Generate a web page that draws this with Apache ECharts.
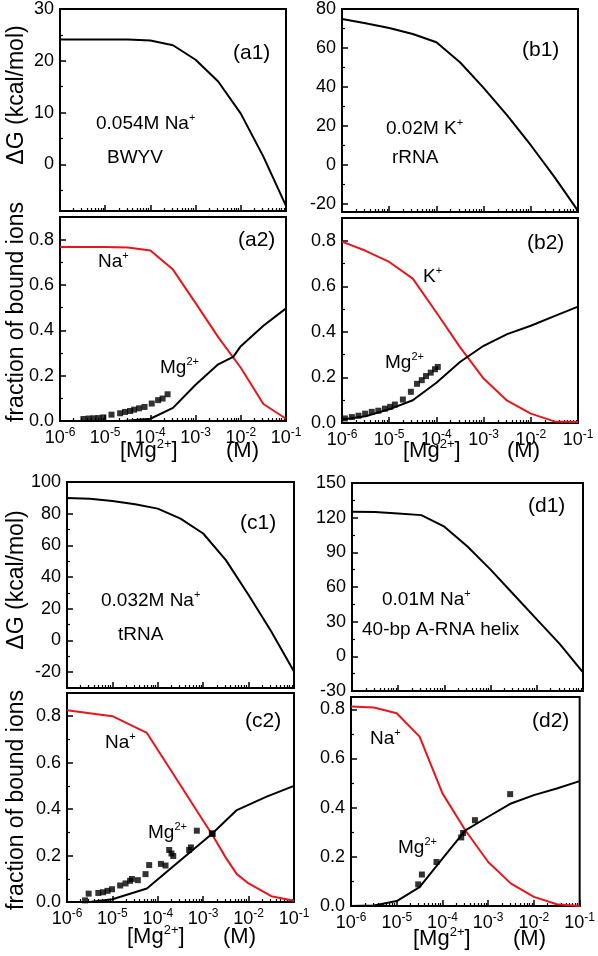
<!DOCTYPE html>
<html><head><meta charset="utf-8">
<script src="https://cdn.jsdelivr.net/npm/echarts@6/dist/echarts.min.js"></script>
<style>html,body{margin:0;padding:0;background:#fff}#c{width:598px;height:956px}</style>
</head><body><div id="c"></div>
<script>
const FONT = '"Liberation Sans", Arial, Helvetica, sans-serif';
const RED = '#e8161b';

// ---------- data ----------
const mgGrid = [1e-6, 3.16e-6, 1e-5, 3.16e-5, 1e-4, 3.16e-4, 1e-3, 3.16e-3, 1e-2, 3.16e-2, 1e-1];
const xMajorTicks = [1e-6, 1e-5, 1e-4, 1e-3, 1e-2, 1e-1];
const fracMajorTicks = [0, 0.2, 0.4, 0.6, 0.8];
const fracMinorTicks = [0.1, 0.3, 0.5, 0.7];

// (a1) BWYV, 0.054M Na+
const a1DeltaG = [24.1, 24.1, 24.1, 24.1, 23.9, 23.0, 20.2, 16.0, 9.8, 1.5, -8.0];
// (a2)
const a2NaFrac = [0.768, 0.768, 0.768, 0.765, 0.752, 0.668, 0.52, 0.37, 0.235, 0.075, 0.01];
const a2MgX = [2.5e-5, 1e-4, 3.16e-4, 1e-3, 3.16e-3, 6.8e-3, 1e-2, 3.16e-2, 1e-1];
const a2MgFrac = [0.0, 0.01, 0.058, 0.16, 0.25, 0.283, 0.33, 0.42, 0.497];
const a2ExpX = [3.3e-6, 4.3e-6, 5.5e-6, 7.1e-6, 9.1e-6, 1.38e-5, 2.14e-5, 2.75e-5, 3.55e-5, 4.37e-5, 5.62e-5, 7.41e-5, 1.07e-4, 1.48e-4, 1.86e-4, 2.4e-4];
const a2ExpY = [0.009, 0.011, 0.012, 0.013, 0.016, 0.028, 0.034, 0.040, 0.044, 0.050, 0.056, 0.062, 0.077, 0.092, 0.099, 0.118];

// (b1) rRNA, 0.02M K+
const b1DeltaG = [74.9, 72.7, 70.3, 67.2, 63.0, 52.7, 39.6, 25.5, 10.2, -6.0, -23.4];
// (b2)
const b2KFrac = [0.796, 0.756, 0.707, 0.634, 0.485, 0.333, 0.195, 0.098, 0.041, 0.007, 0.004];
const b2MgFrac = [0.015, 0.03, 0.06, 0.10, 0.177, 0.268, 0.339, 0.39, 0.427, 0.469, 0.511];
const b2ExpX = [1.15e-6, 1.62e-6, 2.24e-6, 3.09e-6, 4.27e-6, 5.89e-6, 8.13e-6, 1.05e-5, 1.32e-5, 1.95e-5, 2.88e-5, 3.89e-5, 4.9e-5, 6.03e-5, 7.59e-5, 9.33e-5, 1.07e-4];
const b2ExpY = [0.020, 0.026, 0.032, 0.041, 0.049, 0.054, 0.063, 0.071, 0.081, 0.103, 0.137, 0.172, 0.188, 0.206, 0.221, 0.236, 0.246];

// (c1) tRNA, 0.032M Na+
const c1DeltaG = [89.9, 89.5, 88.0, 86.0, 83.2, 76.9, 67.5, 50.7, 28.7, 5.6, -19.6];
// (c2)
const c2NaX = [1e-6, 1e-5, 5.75e-5, 3.16e-4, 1e-3, 1.55e-3, 3.16e-3, 5.5e-3, 1e-2, 3.16e-2, 1e-1];
const c2NaFrac = [0.826, 0.80, 0.728, 0.503, 0.35, 0.293, 0.19, 0.12, 0.08, 0.025, 0.005];
const c2MgX = [3.16e-6, 1e-5, 5.75e-5, 3.16e-4, 1.55e-3, 5.5e-3, 2.5e-2, 1e-1];
const c2MgFrac = [0.0, 0.012, 0.058, 0.18, 0.293, 0.396, 0.454, 0.50];
const c2ExpX = [2.5e-6, 3.0e-6, 4.9e-6, 6.2e-6, 7.8e-6, 9.8e-6, 1.48e-5, 1.95e-5, 2.45e-5, 2.69e-5, 3.63e-5, 5.37e-5, 6.46e-5, 1.17e-4, 1.48e-4, 1.78e-4, 2.0e-4, 2.19e-4, 4.9e-4, 5.37e-4, 7.24e-4, 1.55e-3, 1.62e-3];
const c2ExpY = [0.007, 0.036, 0.039, 0.042, 0.048, 0.055, 0.071, 0.080, 0.091, 0.099, 0.094, 0.120, 0.159, 0.164, 0.157, 0.224, 0.209, 0.198, 0.224, 0.235, 0.307, 0.296, 0.293];

// (d1) 40-bp A-RNA helix, 0.01M Na+
const d1DeltaG = [125.1, 124.8, 123.7, 122.2, 112.2, 95.0, 75.0, 53.5, 32.0, 10.6, -13.8];
// (d2)
const d2NaFrac = [0.811, 0.807, 0.784, 0.689, 0.458, 0.308, 0.179, 0.091, 0.037, 0.007, 0.0];
const d2MgFrac = [0.0, 0.002, 0.02, 0.077, 0.193, 0.308, 0.363, 0.417, 0.451, 0.478, 0.508];
const d2ExpX = [2.95e-5, 3.55e-5, 7.41e-5, 2.57e-4, 2.82e-4, 5.13e-4, 3.02e-3];
const d2ExpY = [0.088, 0.128, 0.179, 0.279, 0.297, 0.349, 0.455];

// ---------- layout ----------
const zip = (xs, ys) => xs.map((x, i) => [x, ys[i]]);
const xMinorTicks = [];
for (let e = -6; e < -1; e++) for (let m = 2; m <= 9; m++) xMinorTicks.push(m * Math.pow(10, e));

const panels = [
  {rect:[60,7,226,204],  yMin:-9,  yMax:30,  yMajor:[0,10,20,30], yMinor:[-5,5,15,25], bottom:false, dec:0},
  {rect:[60,217,226,204], yMin:0,  yMax:0.9, yMajor:fracMajorTicks, yMinor:fracMinorTicks, bottom:true, dec:1},
  {rect:[342,8,236,204], yMin:-24, yMax:80,  yMajor:[-20,0,20,40,60,80], yMinor:[-10,10,30,50,70], bottom:false, dec:0},
  {rect:[342,218,236,205], yMin:0, yMax:0.9, yMajor:fracMajorTicks, yMinor:fracMinorTicks, bottom:true, dec:1},
  {rect:[67,482,227,206], yMin:-30, yMax:100, yMajor:[-20,0,20,40,60,80,100], yMinor:[-10,10,30,50,70,90], bottom:false, dec:0},
  {rect:[67,693,227,209], yMin:0,  yMax:0.9, yMajor:fracMajorTicks, yMinor:fracMinorTicks, bottom:true, dec:1},
  {rect:[352,483,231,208], yMin:-30, yMax:150, yMajor:[-30,0,30,60,90,120,150], yMinor:[-15,15,45,75,105,135], bottom:false, dec:0},
  {rect:[351,697,233,209], yMin:0, yMax:0.85, yMajor:fracMajorTicks, yMinor:fracMinorTicks, bottom:true, dec:1}
];

const grids = [], xAxes = [], yAxes = [];
panels.forEach((p, i) => {
  grids.push({left:p.rect[0], top:p.rect[1], width:p.rect[2], height:p.rect[3],
    show:true, borderColor:'#000', borderWidth:2, backgroundColor:'rgba(0,0,0,0)'});
  const xBase = {type:'log', logBase:10, gridIndex:i, min:1e-6, max:1e-1, position:'bottom', splitLine:{show:false}};
  xAxes.push(Object.assign({}, xBase, {
    axisLine:{show:true, onZero:false, lineStyle:{color:'#000', width:2}},
    axisTick:{show:true, inside:true, length:6, customValues:xMajorTicks, lineStyle:{color:'#000', width:1.5}},
    axisLabel:{show:p.bottom, customValues:xMajorTicks, margin:6,
      formatter: v => '{b|10}{s|' + Math.round(Math.log10(v)) + '}',
      rich:{b:{fontSize:18, fontFamily:FONT, color:'#000'}, s:{fontSize:12, fontFamily:FONT, color:'#000', padding:[0,0,10,0]}}}
  }));
  xAxes.push(Object.assign({}, xBase, {
    axisLine:{show:false, onZero:false},
    axisTick:{show:true, inside:true, length:3, customValues:xMinorTicks, lineStyle:{color:'#000', width:1.2}},
    axisLabel:{show:false}
  }));
  const yBase = {type:'value', gridIndex:i, min:p.yMin, max:p.yMax, position:'left', splitLine:{show:false}};
  yAxes.push(Object.assign({}, yBase, {
    axisLine:{show:true, onZero:false, lineStyle:{color:'#000', width:2}},
    axisTick:{show:true, inside:true, length:6, customValues:p.yMajor, lineStyle:{color:'#000', width:1.5}},
    axisLabel:{show:true, customValues:p.yMajor, margin:6, color:'#000', fontSize:18, fontFamily:FONT,
      formatter: v => v.toFixed(p.dec)}
  }));
  yAxes.push(Object.assign({}, yBase, {
    axisLine:{show:false, onZero:false},
    axisTick:{show:true, inside:true, length:3, customValues:p.yMinor, lineStyle:{color:'#000', width:1.2}},
    axisLabel:{show:false}
  }));
});

function line(panel, data, color) {
  return {type:'line', xAxisIndex:panel*2, yAxisIndex:panel*2, data, showSymbol:false, symbol:'none',
    lineStyle:{color, width:2}, silent:true, animation:false, z:3};
}
function dots(panel, data) {
  return {type:'scatter', xAxisIndex:panel*2, yAxisIndex:panel*2, data, symbol:'rect', symbolSize:6,
    itemStyle:{color:'#000'}, silent:true, animation:false, z:4};
}

const series = [
  line(0, zip(mgGrid, a1DeltaG), '#000'),
  line(1, zip(mgGrid, a2NaFrac), RED),
  line(1, zip(a2MgX, a2MgFrac), '#000'),
  dots(1, zip(a2ExpX, a2ExpY)),
  line(2, zip(mgGrid, b1DeltaG), '#000'),
  line(3, zip(mgGrid, b2KFrac), RED),
  line(3, zip(mgGrid, b2MgFrac), '#000'),
  dots(3, zip(b2ExpX, b2ExpY)),
  line(4, zip(mgGrid, c1DeltaG), '#000'),
  line(5, zip(c2NaX, c2NaFrac), RED),
  line(5, zip(c2MgX, c2MgFrac), '#000'),
  dots(5, zip(c2ExpX, c2ExpY)),
  line(6, zip(mgGrid, d1DeltaG), '#000'),
  line(7, zip(mgGrid, d2NaFrac), RED),
  line(7, zip(mgGrid, d2MgFrac), '#000'),
  dots(7, zip(d2ExpX, d2ExpY))
];

// ---------- text ----------
const rich = {
  n:{fontSize:19, fontFamily:FONT, color:'#000'},
  p:{fontSize:21, fontFamily:FONT, color:'#000'},
  t:{fontSize:22, fontFamily:FONT, color:'#000'},
  s:{fontSize:11, fontFamily:FONT, color:'#000', padding:[0,0,12,0]},
  st:{fontSize:13, fontFamily:FONT, color:'#000', padding:[0,0,13,0]}
};
const notes = [
  ['{p|(a1)}', 233, 53], ['{n|0.054M Na}{s|+}', 96, 124], ['{n|BWYV}', 107, 158],
  ['{p|(b1)}', 522, 50], ['{n|0.02M K}{s|+}', 386, 129], ['{n|rRNA}', 392, 158],
  ['{p|(a2)}', 238, 240], ['{n|Na}{s|+}', 98, 262], ['{n|Mg}{s|2+}', 160, 368],
  ['{p|(b2)}', 527, 243], ['{n|K}{s|+}', 423, 277], ['{n|Mg}{s|2+}', 385, 363],
  ['{p|(c1)}', 240, 523], ['{n|0.032M Na}{s|+}', 101, 601], ['{n|tRNA}', 118, 635],
  ['{p|(d1)}', 528, 506], ['{n|0.01M Na}{s|+}', 382, 600], ['{n|40-bp A-RNA helix}', 362, 630],
  ['{p|(c2)}', 245, 721], ['{n|Na}{s|+}', 105, 743], ['{n|Mg}{s|2+}', 148, 833],
  ['{p|(d2)}', 532, 721], ['{n|Na}{s|+}', 370, 739], ['{n|Mg}{s|2+}', 398, 848],
  ['{t|[Mg}{st|2+}{t|]}', 120, 451], ['{t|(M)}', 226, 451],
  ['{t|[Mg}{st|2+}{t|]}', 403, 451], ['{t|(M)}', 507, 451],
  ['{t|[Mg}{st|2+}{t|]}', 127, 937], ['{t|(M)}', 223, 937],
  ['{t|[Mg}{st|2+}{t|]}', 413, 939], ['{t|(M)}', 513, 939]
];
const graphic = notes.map(([text, x, y]) => ({type:'text', x, y, silent:true,
  style:{text, rich, textAlign:'left', textVerticalAlign:'middle', fill:'#000'}}));
const yTitles = [['ΔG (kcal/mol)', 17, 95], ['fraction of bound ions', 17, 312],
                 ['ΔG (kcal/mol)', 17, 580], ['fraction of bound ions', 17, 800]];
yTitles.forEach(([text, x, y]) => graphic.push({type:'text', x, y, rotation:Math.PI/2, silent:true,
  style:{text, fill:'#000', font:'23px ' + FONT, textAlign:'center', textVerticalAlign:'middle'}}));

const chart = echarts.init(document.getElementById('c'), null, {renderer:'canvas'});
chart.setOption({animation:false, backgroundColor:'#fff', grid:grids, xAxis:xAxes, yAxis:yAxes, series, graphic});
</script></body></html>
